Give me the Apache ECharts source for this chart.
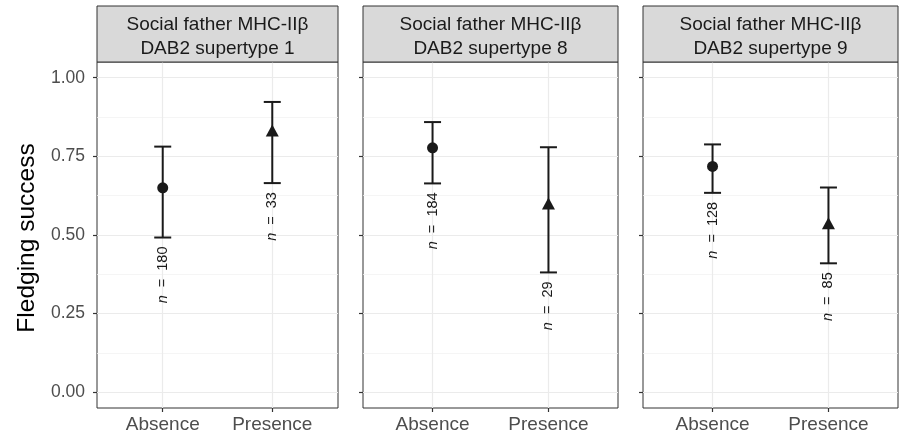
<!DOCTYPE html>
<html>
<head>
<meta charset="utf-8">
<script src="https://cdn.jsdelivr.net/npm/echarts@6/dist/echarts.min.js"></script>
<style>
html,body{margin:0;padding:0;background:#fff;}
#c{width:899px;height:437px;}
</style>
</head>
<body>
<div id="c"></div>
<script>
// ---- data ----
const panelTitles = ['Social father MHC-IIβ\nDAB2 supertype 1', 'Social father MHC-IIβ\nDAB2 supertype 8', 'Social father MHC-IIβ\nDAB2 supertype 9'];
const categories = ['Absence', 'Presence'];
const means = [[0.65, 0.832], [0.777, 0.60], [0.718, 0.537]];
const lowers = [[0.492, 0.665], [0.664, 0.381], [0.634, 0.41]];
const uppers = [[0.781, 0.923], [0.859, 0.779], [0.788, 0.651]];
const nCounts = [[180, 33], [184, 29], [128, 85]];
const yTicks = [0, 0.25, 0.5, 0.75, 1];
const yMinorTicks = [0.125, 0.375, 0.625, 0.875];
const xPositions = [1, 2];
const markerShapes = ['circle', 'triangle'];

// ---- layout ----
const FONT = '"Liberation Sans", Arial, Helvetica, sans-serif';
const panelLefts = [97, 363, 643];
const panelWidths = [241, 255, 255];
const panelTop = 62, panelHeight = 346;
const stripTop = 6;

const chart = echarts.init(document.getElementById('c'), null, {renderer: 'canvas'});

const grids = [], xAxes = [], yAxes = [], series = [], graphics = [];

panelLefts.forEach((l, k) => {
  grids.push({left: l, top: panelTop, width: panelWidths[k], height: panelHeight, show: true,
    borderColor: '#333333', borderWidth: 1, backgroundColor: 'transparent', containLabel: false});
  xAxes.push({type: 'value', gridIndex: k, min: 0.4, max: 2.6, position: 'bottom',
    axisLine: {show: false, onZero: false},
    axisTick: {show: true, customValues: xPositions, length: 4, lineStyle: {color: '#333333', width: 1.2}},
    axisLabel: {show: true, customValues: xPositions, margin: 7, color: '#4D4D4D', fontSize: 19, fontFamily: FONT,
      formatter: v => categories[Math.round(v) - 1]},
    splitLine: {show: true, lineStyle: {color: '#EBEBEB', width: 1.2}}
  });
  yAxes.push({type: 'value', gridIndex: k, min: -0.05, max: 1.05, position: 'left',
    axisLine: {show: false, onZero: false},
    axisTick: {show: true, customValues: yTicks, length: 4, lineStyle: {color: '#333333', width: 1.2}},
    axisLabel: {show: k === 0, customValues: yTicks, margin: 12, color: '#4D4D4D', fontSize: 17.5, fontFamily: FONT,
      formatter: v => v.toFixed(2)},
    splitLine: {show: true, lineStyle: {color: '#EBEBEB', width: 1.2}}
  });
  yAxes.push({type: 'value', gridIndex: k, min: -0.05, max: 1.05, position: 'right',
    axisLine: {show: false, onZero: false},
    axisTick: {show: false, customValues: yMinorTicks},
    axisLabel: {show: false, customValues: yMinorTicks},
    splitLine: {show: true, lineStyle: {color: '#F2F2F2', width: 0.8}}
  });

  const ebData = xPositions.map((x, i) => [x, means[k][i], lowers[k][i], uppers[k][i], nCounts[k][i]]);
  series.push({
    type: 'custom', xAxisIndex: k, yAxisIndex: 2 * k, z: 3,
    data: ebData,
    renderItem: function (params, api) {
      const x = api.value(0), lo = api.value(2), hi = api.value(3), n = api.value(4);
      const pLo = api.coord([x, lo]), pHi = api.coord([x, hi]);
      const hw = 8.5;
      const st = {stroke: '#1A1A1A', lineWidth: 2};
      return {type: 'group', children: [
        {type: 'line', shape: {x1: pLo[0], y1: pLo[1], x2: pHi[0], y2: pHi[1]}, style: st},
        {type: 'line', shape: {x1: pLo[0] - hw, y1: pLo[1], x2: pLo[0] + hw, y2: pLo[1]}, style: st},
        {type: 'line', shape: {x1: pHi[0] - hw, y1: pHi[1], x2: pHi[0] + hw, y2: pHi[1]}, style: st},
        {type: 'text', x: pLo[0], y: pLo[1] + 9, rotation: Math.PI / 2,
          style: {text: '{i|n}  =  ' + n, rich: {i: {fontStyle: 'italic', fontSize: 14.5, fontFamily: FONT, fill: '#1A1A1A'}},
            fontSize: 14.5, fontFamily: FONT, fill: '#1A1A1A', align: 'right', verticalAlign: 'middle'}}
      ]};
    }
  });
  series.push({
    type: 'scatter', xAxisIndex: k, yAxisIndex: 2 * k, z: 4,
    data: xPositions.map((x, i) => ({value: [x, means[k][i]], symbol: markerShapes[i], symbolSize: i === 0 ? 11 : [13, 12]})),
    itemStyle: {color: '#1A1A1A', opacity: 1},
    silent: true
  });

  graphics.push({type: 'rect', shape: {x: l, y: stripTop, width: panelWidths[k], height: panelTop - stripTop},
    style: {fill: '#D9D9D9', stroke: '#333333', lineWidth: 1}, z: 1});
  graphics.push({type: 'text', x: l + panelWidths[k] / 2, y: 37,
    style: {text: panelTitles[k], fill: '#1A1A1A', fontSize: 19, fontFamily: FONT, lineHeight: 23.5,
      align: 'center', verticalAlign: 'middle'}, z: 2});
});

graphics.push({type: 'text', x: 27, y: 238, rotation: Math.PI / 2,
  style: {text: 'Fledging success', fill: '#000000', fontSize: 24.5, fontFamily: FONT, align: 'center', verticalAlign: 'middle'}});

chart.setOption({
  animation: false,
  backgroundColor: '#ffffff',
  grid: grids, xAxis: xAxes, yAxis: yAxes, series: series, graphic: graphics
});
</script>
</body>
</html>
